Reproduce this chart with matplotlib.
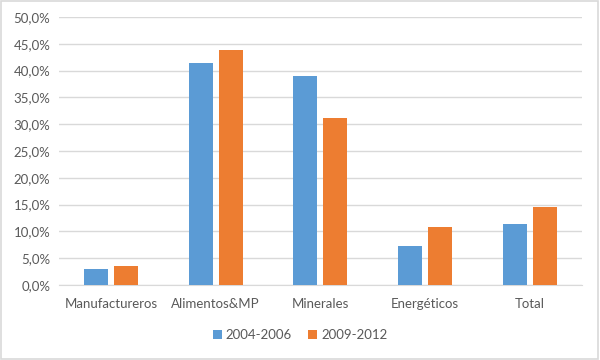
import numpy as np
import matplotlib
matplotlib.use("Agg")
import matplotlib.pyplot as plt
from matplotlib.patches import Rectangle
from matplotlib.ticker import FuncFormatter

categories = ["Manufactureros", "Alimentos&MP", "Minerales", "Energéticos", "Total"]
series_names = ["2004-2006", "2009-2012"]
vals_2004_2006 = [3.0, 41.4, 38.9, 7.3, 11.4]
vals_2009_2012 = [3.6, 43.8, 31.2, 10.8, 14.6]

blue = "#5B9BD5"
orange = "#ED7D31"
text_col = "#595959"
grid_col = "#D9D9D9"

plt.rcParams['font.family'] = ['Lato', 'DejaVu Sans']

fig = plt.figure(figsize=(6, 3.6), dpi=100)
ax = fig.add_axes([0.098, 0.2083, 0.872, 0.7447])

x = np.arange(len(categories))
w = 0.23
off = 0.143
ax.bar(x - off, vals_2004_2006, w, color=blue, label=series_names[0], zorder=3)
ax.bar(x + off, vals_2009_2012, w, color=orange, label=series_names[1], zorder=3)

ax.set_xlim(-0.5, len(categories) - 0.5)
ax.set_ylim(0, 50)
ax.set_yticks(np.arange(0, 50.1, 5))
ax.yaxis.set_major_formatter(FuncFormatter(lambda v, p: f"{v:.1f}%".replace(".", ",")))
ax.set_xticks(x)
ax.set_xticklabels(categories)
ax.grid(axis='y', color=grid_col, linewidth=1, zorder=0)
for s in ["top", "right", "left"]:
    ax.spines[s].set_visible(False)
ax.spines["bottom"].set_color(grid_col)
ax.tick_params(axis='both', length=0, colors=text_col, labelsize=9.5)
ax.tick_params(axis='x', pad=9)
ax.tick_params(axis='y', pad=6)

fig.legend(loc='center', bbox_to_anchor=(0.5, 0.07), ncol=2, frameon=False,
           fontsize=9.5, labelcolor=text_col, handlelength=0.7, handleheight=0.7,
           handletextpad=0.3, columnspacing=1.2)

fig.patches.append(Rectangle((0.002, 0.003), 0.995, 0.994, transform=fig.transFigure,
                             fill=False, edgecolor=grid_col, linewidth=1.2))

fig.savefig("out.png", dpi=100)
